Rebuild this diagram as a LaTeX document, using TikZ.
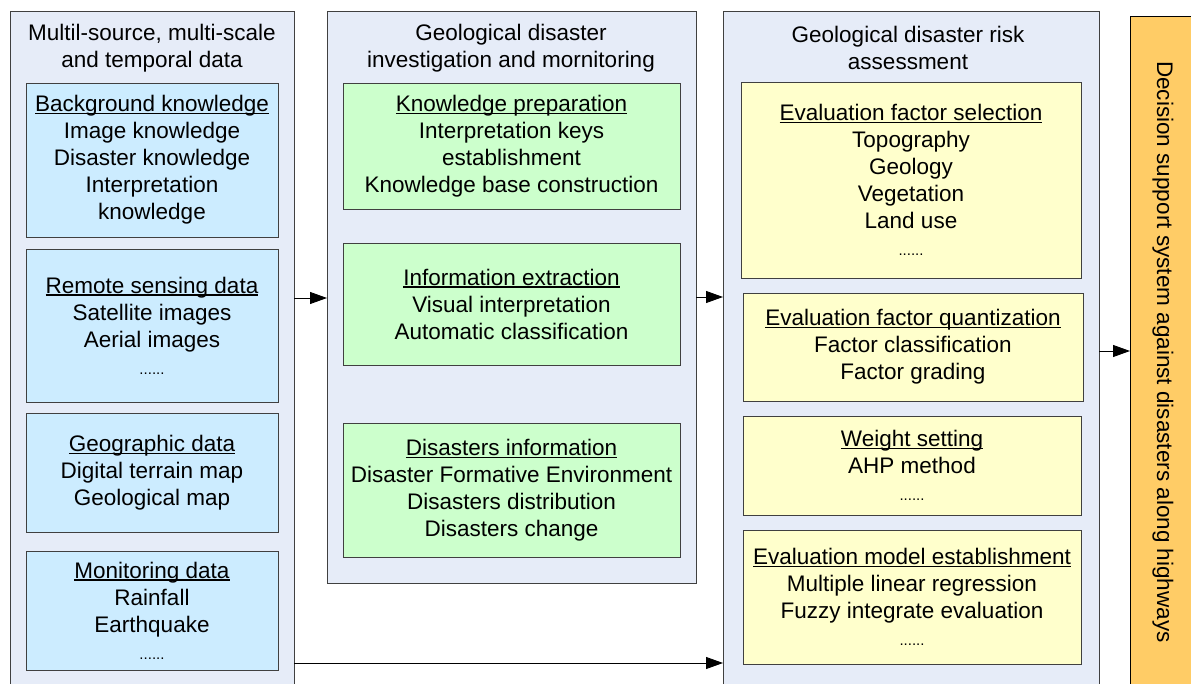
\documentclass[tikz,border=0pt]{standalone}
\usepackage{fontspec}
\setmainfont{Liberation Sans}
\usetikzlibrary{arrows.meta}
\definecolor{colbg}{HTML}{E6ECF8}
\definecolor{bluebox}{HTML}{CCECFF}
\definecolor{greenbox}{HTML}{CCFFCC}
\definecolor{yellowbox}{HTML}{FFFFCC}
\definecolor{orangebox}{HTML}{FFCC66}
\definecolor{edge}{HTML}{404040}
\newcommand{\smalldots}{{\fontsize{15}{27}\selectfont ......}}
\newcommand{\ulhead}[1]{\setbox0\hbox{#1}\rlap{\rule[-2.6pt]{\wd0}{1.3pt}}\box0}
\begin{document}
\begin{tikzpicture}[x=1pt,y=-1pt,
  every node/.style={font=\fontsize{22.5}{27}\selectfont, inner sep=0pt, outer sep=0pt, align=center},
  column/.style={draw=edge, fill=colbg, line width=0.9pt, anchor=north west},
  bluecell/.style={draw=edge, fill=bluebox, line width=0.9pt, anchor=north west, minimum width=252pt},
  greencell/.style={draw=edge, fill=greenbox, line width=0.9pt, anchor=north west, minimum width=337pt},
  yellowcell/.style={draw=edge, fill=yellowbox, line width=0.9pt, anchor=north west},
  decision/.style={draw=black, fill=orangebox, line width=0.9pt, anchor=north west},
  arr/.style={-{Triangle[length=17pt,width=12pt]}, line width=0.9pt, draw=black}]
\clip (0,0) rectangle (1191,684);
\fill[white] (0,0) rectangle (1191,684);

% columns
\node[column, minimum width=284pt, minimum height=690pt] (colA) at (10,11) {};
\node[column, minimum width=369pt, minimum height=572pt] (colB) at (327,11) {};
\node[column, minimum width=376pt, minimum height=680pt] (colC) at (723,11) {};
\node[decision, minimum width=70pt, minimum height=690pt] (dss) at (1130,16) {};

% column titles
\node (tA) at (152,48) {Multil-source, multi-scale\\and temporal data};
\node (tB) at (511,48) {Geological disaster\\investigation and mornitoring};
\node (tC) at (908,48) {Geological disaster risk\\assessment};

% left column cells
\node[bluecell, minimum height=154pt] (bk) at (26,83) {\ulhead{Background knowledge}\\Image knowledge\\Disaster knowledge\\Interpretation\\knowledge};
\node[bluecell, minimum height=153pt] (rs) at (26,249) {\ulhead{Remote sensing data}\\Satellite images\\Aerial images\\\smalldots};
\node[bluecell, minimum height=119pt] (gd) at (26,413) {\ulhead{Geographic data}\\Digital terrain map\\Geological map};
\node[bluecell, minimum height=119pt] (md) at (26,551) {\ulhead{Monitoring data}\\Rainfall\\Earthquake\\\smalldots};

% middle column cells
\node[greencell, minimum height=126pt] (kp) at (343,83) {\ulhead{Knowledge preparation}\\Interpretation keys\\establishment\\Knowledge base construction};
\node[greencell, minimum height=122pt] (ie) at (343,243) {\ulhead{Information extraction}\\Visual interpretation\\Automatic classification};
\node[greencell, minimum height=134pt] (di) at (343,423) {\ulhead{Disasters information}\\Disaster Formative Environment\\Disasters distribution\\Disasters change};

% right column cells
\node[yellowcell, minimum width=340pt, minimum height=196pt] (efs) at (741,82) {\ulhead{Evaluation factor selection}\\Topography\\Geology\\Vegetation\\Land use\\\smalldots};
\node[yellowcell, minimum width=340pt, minimum height=108pt] (efq) at (743,293) {\ulhead{Evaluation factor quantization}\\Factor classification\\Factor grading};
\node[yellowcell, minimum width=338pt, minimum height=99pt] (ws) at (743,416) {\ulhead{Weight setting}\\AHP method\\\smalldots};
\node[yellowcell, minimum width=338pt, minimum height=134pt] (em) at (743,530) {\ulhead{Evaluation model establishment}\\Multiple linear regression\\Fuzzy integrate evaluation\\\smalldots};

% decision text
\node[rotate=-90] (dsst) at (1163,352) {Decision support system against disasters along highways};

% connectors
\coordinate (a1) at (0,298);
\coordinate (a2) at (0,297);
\coordinate (a4) at (0,663);
\draw[arr] (colA.east |- a1) -- (colB.west |- a1);
\draw[arr] (colB.east |- a2) -- (colC.west |- a2);
\draw[arr] (colC.east) -- (dss.west |- colC.east);
\draw[arr] (colA.east |- a4) -- (colC.west |- a4);
\end{tikzpicture}
\end{document}
